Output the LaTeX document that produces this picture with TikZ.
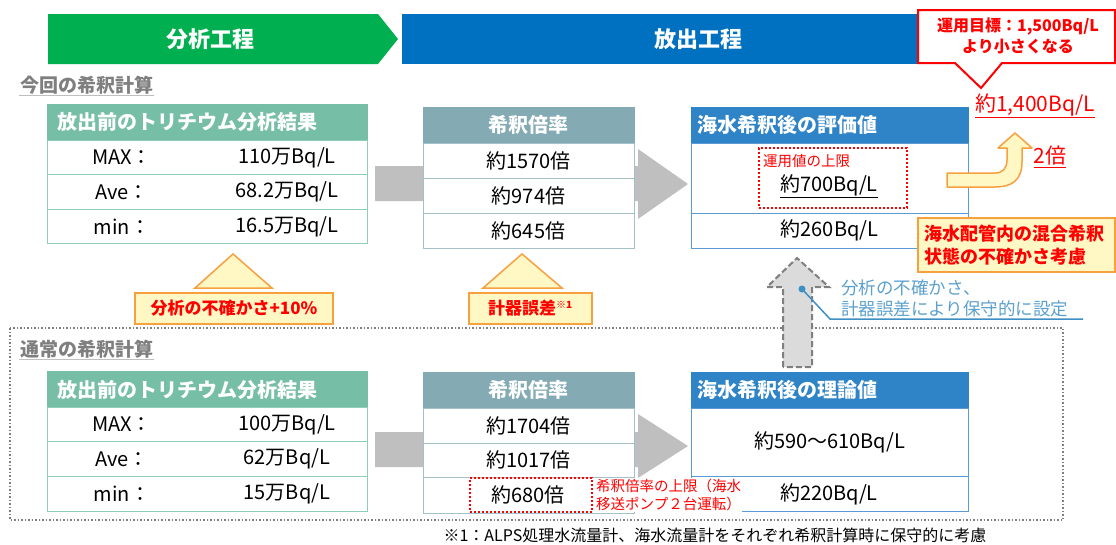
\documentclass[tikz,border=0pt]{standalone}
\usepackage{fontspec}
\setmainfont{Noto Sans CJK JP}
\usetikzlibrary{positioning}
\definecolor{vertbande}{HTML}{00B050}
\definecolor{bleubande}{HTML}{0070C0}
\definecolor{verttab}{HTML}{76BEA6}
\definecolor{verttrait}{HTML}{8ECDB8}
\definecolor{gristab}{HTML}{84AAB4}
\definecolor{gristrait}{HTML}{A3C1CA}
\definecolor{bleutab}{HTML}{2E84C6}
\definecolor{bleutrait}{HTML}{5B9BD5}
\definecolor{cadre}{HTML}{F7A040}
\definecolor{jaune}{HTML}{FFF8C4}
\definecolor{rouge}{HTML}{FF0000}
\definecolor{grisfleche}{HTML}{BFBFBF}
\definecolor{gristitre}{HTML}{7F7F7F}
\definecolor{bleunote}{HTML}{3E8FC4}
\begin{document}
\begin{tikzpicture}[x=1pt,y=-1pt]
\tikzset{bande/.style={text=white, font=\fontsize{22}{22}\bfseries\selectfont},
  titre/.style={text=gristitre, inner sep=1pt, font=\fontsize{19}{19}\bfseries\selectfont},
  tete/.style={draw=#1, fill=#1, text=white, minimum height=36pt, inner sep=0pt, font=\fontsize{20}{20}\bfseries\selectfont},
  case/.style={draw=#1, fill=white, line width=1pt, inner sep=0pt},
  txt/.style={inner sep=0pt, font=\fontsize{20}{20}\selectfont},
  etiq/.style={draw=cadre, fill=jaune, line width=1.2pt, text=rouge, font=\fontsize{17}{17}\bfseries\selectfont},
  pointille/.style={draw=rouge, line width=2pt, dash pattern=on 2pt off 2pt}}
\useasboundingbox (0,0) rectangle (1116,544);
% bandeaux
\fill[vertbande] (48,14) -- (378,14) -- (398,39) -- (378,64) -- (48,64) -- cycle;
\node[bande] (ana) at (210,39) {分析工程};
\fill[bleubande] (402,14) rectangle (930,64);
\node[bande] (rej) at (698,39) {放出工程};
\draw[rouge, line width=2pt, fill=white] (918,10) -- (1115,10) -- (1115,63) -- (1002,63) -- (981,88) -- (955,63) -- (918,63) -- cycle;
\node[text=rouge, align=center, font=\fontsize{16}{21}\bfseries\selectfont] (but) at (1018,36) {運用目標：1,500Bq/L\\より小さくなる};
% calcul actuel
\node[titre, anchor=west] (cur) at (19,85) {今回の希釈計算};
\draw[grisfleche, line width=1.5pt] (cur.south west) -- (cur.south east);
\fill[grisfleche] (375,166) -- (638,166) -- (638,149) -- (688,184) -- (638,219) -- (638,201) -- (375,201) -- cycle;
\node[tete=verttab, text width=300pt, inner xsep=10pt, align=left] (h1) at (207,122) {放出前のトリチウム分析結果};
\node[case=verttrait, minimum width=320pt, minimum height=34.5pt] (a1) at (207,157.5) {};
\node[case=verttrait, minimum width=320pt, minimum height=34.5pt] (a2) at (207,192) {};
\node[case=verttrait, minimum width=320pt, minimum height=34.5pt] (a3) at (207,226.5) {};
\node[txt] (a1l) at (122,157.5) {MAX：};
\node[txt] (a1v) at (287,157.5) {110万Bq/L};
\node[txt] (a2l) at (122,192) {Ave：};
\node[txt] (a2v) at (287,192) {68.2万Bq/L};
\node[txt] (a3l) at (122,226.5) {min：};
\node[txt] (a3v) at (287,226.5) {16.5万Bq/L};
\node[tete=gristab, minimum width=211pt] (h2) at (528.5,125) {希釈倍率};
\node[case=gristrait, minimum width=211pt, minimum height=35pt] (b1) at (528.5,160.5) {};
\node[case=gristrait, minimum width=211pt, minimum height=35pt] (b2) at (528.5,195.5) {};
\node[case=gristrait, minimum width=211pt, minimum height=35pt] (b3) at (528.5,230.5) {};
\node[txt] (b1v) at (b1) {約1570倍};
\node[txt] (b2v) at (b2) {約974倍};
\node[txt] (b3v) at (b3) {約645倍};
\node[tete=bleutab, text width=265pt, inner xsep=6pt, align=left] (h3) at (829.5,125) {海水希釈後の評価値};
\node[case=bleutrait, minimum width=277pt, minimum height=70pt] (c1) at (829.5,178) {};
\node[case=bleutrait, minimum width=277pt, minimum height=35pt] (c2) at (829.5,230.5) {};
\node[pointille, minimum width=148pt, minimum height=60pt] (lim) at (833,178) {};
\node[text=rouge, inner sep=0pt, anchor=west, font=\fontsize{14.5}{14.5}\selectfont] (limt) at (763,161) {運用値の上限};
\node[txt] (c1v) at (829,186) {\underline{約700Bq/L}};
\node[txt] (c2v) at (c2) {約260Bq/L};
% incertitudes
\draw[cadre, fill=jaune, line width=1.5pt] (195,288) -- (233,254) -- (272,288) -- cycle;
\node[etiq, minimum width=198pt, minimum height=31pt] (inc) at (234,308.5) {分析の不確かさ+10\%};
\draw[cadre, fill=jaune, line width=1.5pt] (483,288) -- (522,254) -- (562,288) -- cycle;
\node[etiq, minimum width=123pt, minimum height=31pt] (err) at (530.5,308.5) {計器誤差\textsuperscript{\fontsize{10}{10}\selectfont ※1}};
\draw[cadre, fill=jaune, line width=1.5pt, line join=round] (947,173) -- (995,173) .. controls (1003,173) and (1007,168) .. (1007,160) -- (1007,148) -- (998,148) -- (1015,133) -- (1032,148) -- (1022,148) -- (1022,162) .. controls (1022,180) and (1012,187) .. (995,187) -- (947,187) -- cycle;
\node[txt, text=rouge, font=\fontsize{21}{21}\selectfont] (fois) at (1050,157) {\underline{2倍}};
\node[txt, text=rouge, font=\fontsize{21}{21}\selectfont] (max) at (1035,106) {\underline{約1,400Bq/L}};
\node[etiq, text width=185pt, align=left, minimum height=54pt, inner xsep=6pt, font=\fontsize{18}{23}\bfseries\selectfont] (mel) at (1016.5,245) {海水配管内の混合希釈\\状態の不確かさ考慮};
% calcul normal
\draw[gristitre, line width=1.5pt, dash pattern=on 1.5pt off 2pt] (10,328) rectangle (1063,520);
\draw[gristitre, fill=gray!28, line width=2pt, dash pattern=on 6pt off 3pt] (783,367) -- (783,287) -- (767,287) -- (797,258) -- (829,287) -- (812,287) -- (812,367) -- cycle;
\coordinate (pt) at (802,289);
\coordinate (coude) at (830,319);
\coordinate (fin) at (1083,319);
\draw[bleunote, line width=1.5pt] (pt) -- (coude) -- (fin);
\fill[bleunote] (pt) circle (3.5);
\node[text=bleunote!85, anchor=west, align=left, inner sep=0pt, font=\fontsize{17.5}{21}\selectfont] (cons) at (841,298) {分析の不確かさ、\\計器誤差により保守的に設定};
\node[titre, anchor=west] (nor) at (19,349) {通常の希釈計算};
\draw[grisfleche, line width=1.5pt] (nor.south west) -- (nor.south east);
\fill[grisfleche] (375,432) -- (638,432) -- (638,414) -- (688,446) -- (638,478) -- (638,467) -- (375,467) -- cycle;
\node[tete=verttab, text width=300pt, inner xsep=10pt, align=left] (h4) at (207,389.5) {放出前のトリチウム分析結果};
\node[case=verttrait, minimum width=320pt, minimum height=34.5pt] (d1) at (207,424.5) {};
\node[case=verttrait, minimum width=320pt, minimum height=34.5pt] (d2) at (207,459) {};
\node[case=verttrait, minimum width=320pt, minimum height=34.5pt] (d3) at (207,494) {};
\node[txt] (d1l) at (122,424.5) {MAX：};
\node[txt] (d1v) at (287,424.5) {100万Bq/L};
\node[txt] (d2l) at (122,459) {Ave：};
\node[txt] (d2v) at (287,459) {62万Bq/L};
\node[txt] (d3l) at (122,494) {min：};
\node[txt] (d3v) at (287,494) {15万Bq/L};
\node[tete=gristab, minimum width=211pt] (h5) at (528.5,390) {希釈倍率};
\node[case=gristrait, minimum width=211pt, minimum height=35pt] (e1) at (528.5,425.5) {};
\node[case=gristrait, minimum width=211pt, minimum height=34pt] (e2) at (528.5,460) {};
\node[case=gristrait, minimum width=211pt, minimum height=36pt] (e3) at (528.5,495) {};
\node[txt] (e1v) at (e1) {約1704倍};
\node[txt] (e2v) at (e2) {約1017倍};
\node[pointille, minimum width=122pt, minimum height=34pt] (plaf) at (531,495) {};
\node[txt] (e3v) at (528,495) {約680倍};
\node[tete=bleutab, text width=265pt, inner xsep=6pt, align=left] (h6) at (829.5,390) {海水希釈後の理論値};
\node[case=bleutrait, minimum width=277pt, minimum height=68pt] (f1) at (829.5,442) {};
\node[case=bleutrait, minimum width=277pt, minimum height=35pt] (f2) at (829.5,493.5) {};
\node[txt] (f1v) at (f1) {約590～610Bq/L};
\node[txt] (f2v) at (829,494) {約220Bq/L};
\node[text=rouge, fill=white, anchor=north west, align=left, inner sep=1pt, font=\fontsize{14.5}{18}\selectfont] (pompe) at (595,478) {希釈倍率の上限（海水\\移送ポンプ２台運転）};
\node[inner sep=0pt, font=\fontsize{16}{16}\selectfont] (note) at (715,535) {※1：ALPS処理水流量計、海水流量計をそれぞれ希釈計算時に保守的に考慮};
\end{tikzpicture}
\end{document}
